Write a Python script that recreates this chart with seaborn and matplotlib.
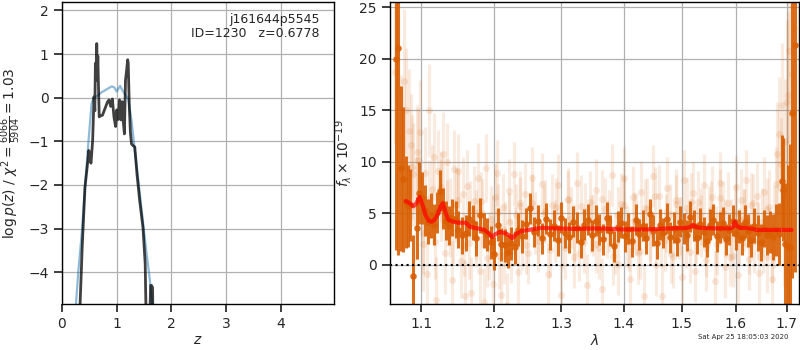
import numpy as np
import pandas as pd
import matplotlib
matplotlib.use("Agg")
import matplotlib.pyplot as plt
import seaborn as sns

# left panel: log p(z)
z_prior = [0.20, 0.255, 0.30, 0.36, 0.42, 0.48, 0.54, 0.58, 0.63, 0.72, 0.815, 0.91, 0.96, 1.00, 1.06, 1.10, 1.15,
           1.21, 1.27, 1.33, 1.39, 1.45, 1.54, 1.60, 1.65, 1.70]
lnp_prior = [-7.0, -4.73, -3.95, -3.12, -2.05, -1.06, -0.14, 0.0, 0.03, 0.12, 0.19, 0.26, 0.23, 0.14, 0.27, 0.18, 0.08,
             -0.03, -0.52, -1.21, -1.83, -2.52, -3.51, -4.12, -4.75, -6.0]

z_pz = [0.30, 0.33, 0.37, 0.42, 0.46, 0.49, 0.51, 0.53, 0.56, 0.585, 0.60, 0.61, 0.62, 0.635, 0.645, 0.655, 0.665,
        0.68, 0.70, 0.74, 0.77, 0.80, 0.83, 0.86, 0.89, 0.92, 0.95, 0.98, 1.00, 1.03, 1.05, 1.08, 1.10, 1.12, 1.14,
        1.16, 1.18, 1.20, 1.21, 1.23, 1.25, 1.27, 1.30, 1.33, 1.37, 1.42, 1.48, 1.52, 1.55, 1.60, 1.62, 1.635,
        1.655, 1.67]
lnp_pz = [-7.0, -4.75, -3.4, -2.05, -1.59, -1.21, -1.44, -1.50, -0.98, 0.02, -0.30, 0.79, 0.40, 1.24, 0.55, 0.95,
          0.35, -0.44, -0.42, -0.40, -0.30, -0.20, -0.10, -0.05, -0.20, -0.03, -0.45, -0.66, -0.28, -0.50, -0.05,
          -0.51, -0.09, -0.55, -0.83, 0.40, 0.62, 0.87, 0.79, -0.20, -0.80, -1.06, -1.10, -1.13, -1.75, -2.36,
          -2.98, -3.80, -6.0, -5.2, -4.30, -4.30, -4.35, -6.0]

# right panel: binned spectrum
wave_bin = [1.068, 1.070, 1.074, 1.077, 1.080, 1.083, 1.086, 1.090, 1.094, 1.097, 1.101, 1.105, 1.109, 1.113,
            1.117, 1.121, 1.125, 1.129, 1.133, 1.137, 1.141, 1.146, 1.150, 1.155, 1.160, 1.165, 1.170, 1.175,
            1.180, 1.185, 1.190, 1.195, 1.200, 1.205, 1.210, 1.215, 1.220, 1.225, 1.230, 1.235, 1.240, 1.246,
            1.252, 1.258, 1.264, 1.270, 1.276, 1.282, 1.288, 1.294, 1.300, 1.306, 1.312, 1.318, 1.324, 1.330,
            1.336, 1.342, 1.348, 1.354, 1.360, 1.366, 1.372, 1.378, 1.384, 1.390, 1.396, 1.402, 1.408, 1.414,
            1.420, 1.426, 1.432, 1.438, 1.444, 1.450, 1.456, 1.462, 1.468, 1.474, 1.480, 1.486, 1.492, 1.498,
            1.504, 1.510, 1.516, 1.522, 1.528, 1.534, 1.540, 1.546, 1.552, 1.558, 1.564, 1.570, 1.576, 1.582,
            1.588, 1.594, 1.600, 1.606, 1.612, 1.618, 1.624, 1.630, 1.636, 1.642, 1.648, 1.654, 1.660, 1.666,
            1.672, 1.678, 1.684, 1.690, 1.693, 1.696, 1.702, 1.706, 1.710, 1.716]
flux_bin = [20.0, 21.0, 9.4, 8.3, 6.1, 5.7, 5.8, -1.1, 3.6, 7.0, 6.5, 5.3, 4.2, 4.8,
            3.9, 5.1, 7.2, 5.5, 4.3, 3.8, 4.6, 4.4, 3.4, 2.9, 3.1, 4.5, 4.1, 2.6,
            4.8, 3.3, 3.0, 2.2, 1.1, 3.9, 2.0, 1.9, 1.3, 2.1, 1.7, 3.4, 2.8, 4.0,
            5.5, 3.2, 4.3, 2.6, 4.5, 3.0, 3.8, 2.4, 4.6, 3.1, 2.7, 4.2, 3.6, 2.2,
            3.9, 4.4, 2.9, 4.3, 3.4, 2.5, 4.6, 3.3, 1.8, 3.7, 4.1, 2.8, 3.5, 2.3,
            4.4, 3.0, 3.8, 2.6, 4.9, 3.3, 2.1, 3.9, 3.1, 4.5, 2.7, 3.6, 2.4, 4.2,
            3.5, 2.9, 4.7, 3.8, 2.6, 4.0, 3.2, 2.3, 3.9, 4.4, 2.8, 3.6, 4.1, 2.5,
            3.4, 4.3, 3.0, 3.7, 2.6, 4.2, 3.3, 2.4, 3.8, 3.1, 2.2, 3.5, 2.9, 3.2,
            2.7, 3.4, 3.0, 8.1, 7.3, 2.0, 1.7, 1.7, 14.7, 21.3]
err_bin = [18.5, 20.0, 8.0, 7.0, 4.5, 4.0, 3.5, 4.0, 3.0, 3.0, 2.5, 2.5, 2.2, 2.2,
           2.0, 2.0, 2.0, 2.0, 1.9, 1.9, 1.8, 1.8, 1.8, 1.8, 1.7, 1.7, 1.7, 1.7,
           1.7, 1.7, 1.6, 1.6, 1.6, 1.6, 1.6, 1.6, 1.6, 1.6, 1.6, 1.6, 1.6, 1.5,
           1.5, 1.5, 1.5, 1.5, 1.5, 1.5, 1.5, 1.5, 1.5, 1.5, 1.5, 1.5, 1.5, 1.5,
           1.5, 1.5, 1.5, 1.5, 1.5, 1.5, 1.5, 1.5, 1.5, 1.5, 1.5, 1.5, 1.5, 1.5,
           1.5, 1.5, 1.5, 1.5, 1.5, 1.5, 1.5, 1.5, 1.5, 1.5, 1.5, 1.5, 1.5, 1.5,
           1.5, 1.5, 1.5, 1.5, 1.5, 1.5, 1.5, 1.5, 1.5, 1.5, 1.5, 1.5, 1.5, 1.5,
           1.5, 1.5, 1.5, 1.6, 1.6, 1.6, 1.6, 1.6, 1.7, 1.7, 1.8, 1.8, 1.9, 2.0,
           2.2, 2.5, 3.0, 4.5, 5.0, 6.0, 8.0, 10.0, 16.0, 22.0]

# right panel: unbinned (faint) spectrum, first beam
wave_raw = [1.066, 1.070, 1.074, 1.078, 1.081, 1.084, 1.087, 1.090, 1.093, 1.096, 1.099, 1.102, 1.105, 1.108,
            1.111, 1.114, 1.117, 1.120, 1.123, 1.126, 1.129, 1.132, 1.135, 1.138, 1.141, 1.144, 1.147, 1.150,
            1.153, 1.156, 1.159, 1.162, 1.165, 1.168, 1.171, 1.174, 1.177, 1.180, 1.183, 1.186, 1.189, 1.192,
            1.195, 1.198, 1.201, 1.204, 1.207, 1.210, 1.213, 1.216, 1.219, 1.222, 1.225, 1.228, 1.231, 1.234,
            1.237, 1.240, 1.245, 1.250, 1.255, 1.260, 1.265, 1.270, 1.275, 1.280, 1.285, 1.290, 1.295, 1.300,
            1.305, 1.310, 1.315, 1.320, 1.325, 1.330, 1.335, 1.340, 1.345, 1.350, 1.355, 1.360, 1.365, 1.370,
            1.375, 1.380, 1.385, 1.390, 1.395, 1.400, 1.405, 1.410, 1.415, 1.420, 1.425, 1.430, 1.435, 1.440,
            1.445, 1.450, 1.455, 1.460, 1.465, 1.470, 1.475, 1.480, 1.485, 1.490, 1.495, 1.500, 1.505, 1.510,
            1.515, 1.520, 1.525, 1.530, 1.535, 1.540, 1.545, 1.550, 1.555, 1.560, 1.565, 1.570, 1.575, 1.580,
            1.585, 1.590, 1.595, 1.600, 1.605, 1.610, 1.615, 1.620, 1.625, 1.630, 1.635, 1.640, 1.645, 1.650,
            1.655, 1.660, 1.665, 1.670, 1.675, 1.680, 1.685, 1.690, 1.695, 1.700, 1.705, 1.710, 1.715]
flux_raw = [18.7, 17.2, 12.4, 17.8, 15.0, 13.0, 11.6, 8.8, 5.5, 10.2, 12.9, 2.0, 8.9, -0.9,
            15.0, 7.4, 10.5, -3.4, 9.1, 6.3, 10.8, 1.2, 10.0, 4.6, -1.5, 9.3, 5.8, 9.1,
            0.4, 6.9, -3.0, 7.7, 2.1, -2.7, 6.2, 3.9, 8.4, -0.6, 5.0, -3.6, 9.4, 1.8,
            4.5, -1.8, 6.6, 8.9, 0.9, -2.9, 5.6, 3.0, -3.9, 7.2, 1.4, 8.8, 4.8, -0.7,
            6.0,
            2.5, 6.9, 1.2, 8.4, 4.1, 2.3, 7.9, 5.2, -0.9, 5.8,
            3.3, 7.8, -2.9, 1.6, 6.4, 4.6, 0.8, 8.0, 5.7, 2.2,
            -1.9, 6.1, 3.9, 7.3, 1.6, -2.3, 5.4, 4.3, 8.7, 2.1,
            0.1, 5.9, 8.4, 2.7, -1.4, 6.6, 4.0, 1.2, 7.1, -3.0,
            5.4, 3.0, 8.6, 0.0, 6.7, -3.0, 2.4, 7.5, 4.9, 0.8,
            6.3, 3.6, -1.2, 8.2, 5.5, 1.3, 7.0, -0.6, 6.1, 3.8,
            7.8, 0.5, 4.7, 6.6, -1.6, 2.0, 8.0, 5.1, -0.2, 6.0,
            3.4, 0.9, 7.6, -1.0, 6.3, 4.4, 8.2, 0.6, 5.8, 2.3,
            6.7, -0.8, 4.2, 7.1, 0.8, 5.6, -1.4, 3.7,
            10.8, 12.7, 15.5, 5.0, 15.8, 20.8, 18.5, 23.0]
err_raw = [7.0, 7.0, 6.0, 7.0, 6.0, 6.0, 5.0, 5.0, 5.0, 5.0, 5.0, 4.5, 4.5, 4.5,
           4.5, 4.2, 4.2, 4.2, 4.0, 4.0, 4.0, 4.0, 3.8, 3.8, 3.8, 3.8, 3.6, 3.6,
           3.6, 3.6, 3.5, 3.5, 3.5, 3.5, 3.4, 3.4, 3.4, 3.4, 3.3, 3.3, 3.3, 3.3,
           3.2, 3.2, 3.2, 3.2, 3.2, 3.2, 3.2, 3.1, 3.1, 3.1, 3.1, 3.1, 3.1, 3.1,
           3.1, 3.0, 3.0, 3.0, 3.0, 3.0, 3.0, 3.0, 3.0, 3.0, 3.0, 3.0, 3.0, 3.0,
           3.0, 3.0, 3.0, 3.0, 3.0, 3.0, 3.0, 3.0, 3.0, 3.0, 3.0, 3.0, 3.0, 3.0,
           3.0, 3.0, 3.0, 3.0, 3.0, 3.0, 3.0, 3.0, 3.0, 3.0, 3.0, 3.0, 3.0, 3.0,
           3.0, 3.0, 3.0, 3.0, 3.0, 3.0, 3.0, 3.0, 3.0, 3.0, 3.0, 3.0, 3.0, 3.0,
           3.0, 3.0, 3.0, 3.0, 3.0, 3.0, 3.0, 3.0, 3.0, 3.0, 3.0, 3.0, 3.0, 3.0,
           3.0, 3.0, 3.0, 3.0, 3.0, 3.0, 3.0, 3.0, 3.0, 3.1, 3.1, 3.2, 3.2, 3.3,
           3.4, 3.5, 3.6, 3.8, 4.0, 5.0, 5.5, 6.0, 7.0, 8.0, 9.0, 10.0, 12.0]

# second beam
wave_raw2 = [1.088, 1.095, 1.103, 1.110, 1.118, 1.126, 1.134, 1.142, 1.150, 1.158,
             1.166, 1.174, 1.182, 1.190, 1.198, 1.206, 1.214, 1.222, 1.230, 1.238,
             1.247, 1.256, 1.265, 1.274, 1.283, 1.292, 1.301, 1.310, 1.319, 1.328,
             1.337, 1.346, 1.355, 1.364, 1.373, 1.382, 1.391, 1.400, 1.409, 1.418,
             1.427, 1.436, 1.445, 1.454, 1.463, 1.472, 1.481, 1.490, 1.499, 1.508,
             1.517, 1.526, 1.535, 1.544, 1.553, 1.562, 1.571, 1.580, 1.589, 1.598,
             1.607, 1.616, 1.625, 1.634, 1.643, 1.652, 1.661, 1.670, 1.679, 1.688,
             1.697, 1.703]
flux_raw2 = [9.5, 11.0, 3.1, 6.4, 2.2, 7.6, 5.0, 3.2, 6.3, 1.9,
             5.3, 2.6, 6.2, 0.7, 3.9, 5.1, 1.0, 4.2, 2.8, 5.7,
             1.9, 6.0, 3.0, 4.9, 1.5, 5.6, 2.4, 6.3, 3.1, 1.2,
             5.2, 4.0, 2.0, 6.4, 3.5, 0.9, 4.8, 5.8, 2.2, 4.3,
             1.4, 5.5, 3.2, 6.7, 2.6, 4.1, 1.1, 5.9, 3.8, 2.5,
             6.1, 3.0, 4.7, 1.6, 5.3, 2.9, 6.5, 3.6, 0.8, 5.0,
             2.7, 4.6, 1.9, 6.0, 3.3, 2.1, 5.4, 1.5, 7.9, 9.8,
             12.0, 16.5]
err_raw2 = [5.0, 4.5, 4.0, 3.8, 3.6, 3.4, 3.2, 3.1, 3.0, 3.0,
            2.8, 2.8, 2.8, 2.8, 2.8, 2.8, 2.8, 2.8, 2.8, 2.8,
            2.8, 2.8, 2.8, 2.8, 2.8, 2.8, 2.8, 2.8, 2.8, 2.8,
            2.8, 2.8, 2.8, 2.8, 2.8, 2.8, 2.8, 2.8, 2.8, 2.8,
            2.8, 2.8, 2.8, 2.8, 2.8, 2.8, 2.8, 2.8, 2.8, 2.8,
            2.8, 2.8, 2.8, 2.8, 2.8, 2.8, 2.8, 2.8, 2.8, 2.8,
            2.8, 2.8, 2.8, 2.8, 2.8, 2.9, 3.0, 3.2, 3.5, 4.5,
            6.0, 8.0]

# model
wave_model = [1.080, 1.085, 1.090, 1.094, 1.098, 1.102, 1.106, 1.110, 1.114, 1.118, 1.122, 1.126, 1.129,
              1.132, 1.136, 1.142, 1.150, 1.160, 1.166, 1.172, 1.180, 1.186, 1.192, 1.197, 1.202, 1.208,
              1.215, 1.221, 1.226, 1.232, 1.240, 1.250, 1.260, 1.270, 1.290, 1.320, 1.360, 1.400, 1.440,
              1.480, 1.510, 1.516, 1.520, 1.525, 1.532, 1.560, 1.590, 1.595, 1.598, 1.602, 1.608, 1.620,
              1.632, 1.640, 1.680, 1.710]
flux_model = [6.2, 6.0, 5.7, 6.0, 6.6, 5.8, 4.8, 4.3, 4.2, 4.4, 4.9, 5.7, 6.0,
              5.2, 4.4, 4.2, 4.1, 4.1, 3.7, 3.6, 3.5, 3.4, 3.1, 2.7, 3.0, 3.2,
              3.1, 2.9, 2.6, 3.0, 3.3, 3.4, 3.5, 3.6, 3.55, 3.5, 3.55, 3.45, 3.45,
              3.55, 3.6, 3.7, 3.9, 3.7, 3.6, 3.55, 3.55, 3.7, 4.2, 3.8, 3.6, 3.6,
              3.5, 3.4, 3.4, 3.4]

sns.set_theme(style="ticks", rc={"axes.grid": True, "grid.color": "#b0b0b0", "grid.linewidth": 0.9,
                                 "axes.edgecolor": "black", "axes.linewidth": 1.0})
plt.rcParams["font.family"] = ["DejaVu Sans"]
plt.rcParams["mathtext.fontset"] = "dejavusans"

orange = "#d95f02"

fig = plt.figure(figsize=(8, 3.5), dpi=100)
ax1 = fig.add_axes([0.0775, 0.131, 0.34, 0.863])
ax2 = fig.add_axes([0.4875, 0.131, 0.511, 0.863])

# p(z)
sns.lineplot(x=z_prior, y=lnp_prior, ax=ax1, color="#1f77b4", alpha=0.5, lw=1.6, sort=False, estimator=None)
sns.lineplot(x=z_pz, y=lnp_pz, ax=ax1, color="black", alpha=0.75, lw=2.0, sort=False, estimator=None)
ax1.set_xlim(0, 4.97)
ax1.set_ylim(-4.73, 2.19)
ax1.set_xticks([0, 1, 2, 3, 4])
ax1.set_yticks([-4, -3, -2, -1, 0, 1, 2])
ax1.set_xlabel(r"$z$", fontsize=10, labelpad=1)
ax1.set_ylabel(r"$\log p(z)$ / $\chi^2=\frac{6066}{5904}=1.03$", fontsize=10)
ax1.text(0.948, 0.965, "j161644p5545\nID=1230   z=0.6778", transform=ax1.transAxes,
         ha="right", va="top", fontsize=9, linespacing=1.15)
ax1.tick_params(labelsize=10)

# spectrum
for w, f, e in [(wave_raw, flux_raw, err_raw), (wave_raw2, flux_raw2, err_raw2)]:
    ax2.errorbar(w, f, yerr=e, fmt="none", ecolor=orange, alpha=0.12, elinewidth=2.3, zorder=1)
    sns.scatterplot(x=w, y=f, ax=ax2, color=orange, alpha=0.13, s=26, linewidth=0, zorder=1)
ax2.errorbar(wave_bin, flux_bin, yerr=err_bin, fmt="none", ecolor=orange, alpha=0.9, elinewidth=2.2, zorder=2)
sns.scatterplot(x=wave_bin, y=flux_bin, ax=ax2, color=orange, alpha=0.9, s=22, linewidth=0, zorder=2)
sns.lineplot(x=wave_model, y=flux_model, ax=ax2, color="red", alpha=0.7, lw=3, sort=False, estimator=None, zorder=3)
ax2.axhline(0, color="black", ls=":", lw=1.5, zorder=4)
ax2.set_xscale("log")
ax2.set_xlim(1.060, 1.7247)
ax2.set_ylim(-3.8, 25.5)
ax2.set_xticks([1.1, 1.2, 1.3, 1.4, 1.5, 1.6, 1.7])
ax2.set_xticklabels(["1.1", "1.2", "1.3", "1.4", "1.5", "1.6", "1.7"])
ax2.minorticks_off()
ax2.set_yticks([0, 5, 10, 15, 20, 25])
ax2.set_xlabel(r"$\lambda$", fontsize=10, labelpad=1)
ax2.set_ylabel(r"$f_\lambda\times10^{-19}$", fontsize=10)
ax2.tick_params(labelsize=10)

fig.text(0.985, 0.028, "Sat Apr 25 18:05:03 2020", ha="right", va="bottom", fontsize=5)

fig.savefig("out.png", dpi=100)
